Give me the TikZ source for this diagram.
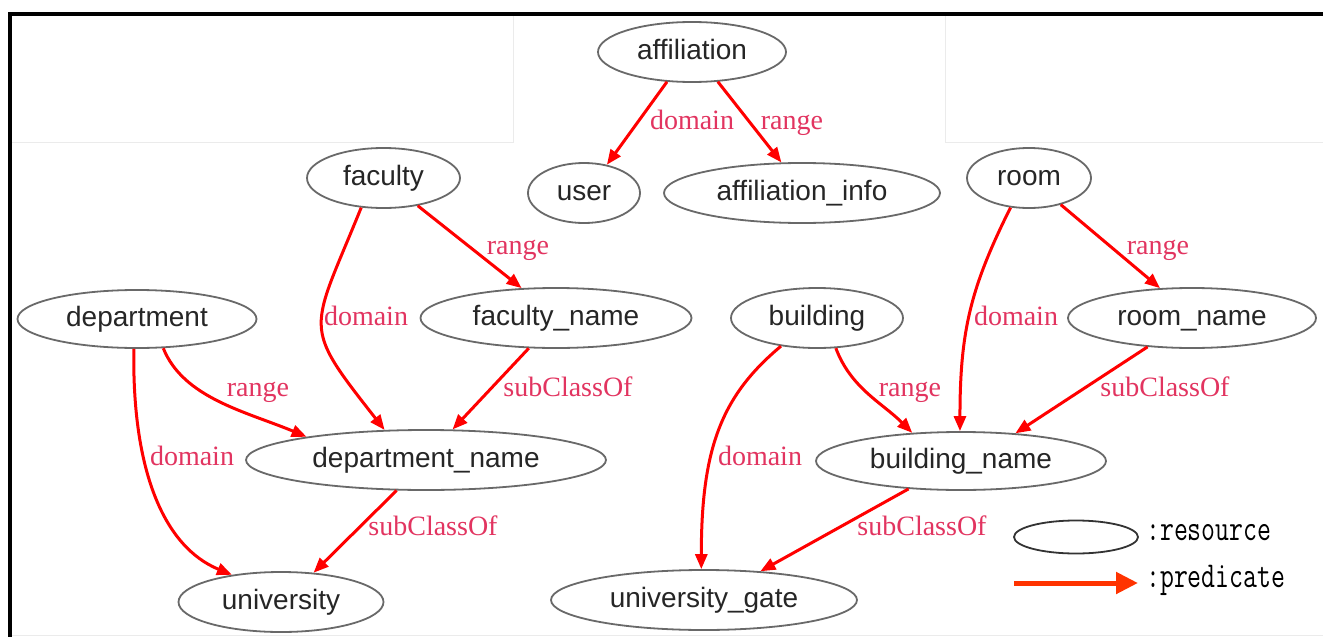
\documentclass[tikz,border=0pt]{standalone}
\usepackage{graphicx}
\usepackage{fontspec}
\setmainfont{Liberation Sans}
\newfontfamily\lblfont{Liberation Serif}
\usetikzlibrary{shapes.geometric,arrows.meta}
\definecolor{edgered}{RGB}{255,0,0}
\definecolor{lblpink}{RGB}{226,52,96}
\definecolor{rimgray}{RGB}{105,105,105}
\definecolor{legred}{RGB}{255,51,0}
\begin{document}
\begin{tikzpicture}[x=1pt,y=-1pt,
  res/.style={ellipse, draw=rimgray, line width=1.8pt, inner sep=0pt,
    text=black!85, font=\fontsize{28}{30}\selectfont,
    text height=20pt, text depth=6pt, minimum height=60pt},
  pred/.style={draw=edgered, line width=3pt, -{Triangle[length=15pt,width=12pt]}},
  lbl/.style={text=lblpink, font=\lblfont\fontsize{28}{30}\selectfont,
    anchor=base, inner sep=0pt},
  legtext/.style={anchor=base west, inner sep=0pt, text=black,
    font=\ttfamily\fontsize{27}{29}\selectfont},
  legarrow/.style={draw=legred, line width=5pt, -{Triangle[length=22pt,width=21pt]}},
  seam/.style={draw=black!8, line width=1pt}
]
\useasboundingbox (0,0) rectangle (1323,637);
\fill[white] (0,0) rectangle (1323,637);

% faint seams of the pasted panels
\draw[seam] (11.5,142) -- (513,142) -- (513,16);
\draw[seam] (945,16) -- (945,142) -- (1323,142);
\draw[seam] (11.5,635) -- (1323,635);

% outer frame (left and top sides)
\draw[line width=4pt, black] (9.5,645) -- (9.5,13.7) -- (1330,13.7);

% resources
\node[res, minimum width=188pt] (affiliation) at (692,52) {affiliation};
\node[res, minimum width=112pt] (user) at (584,193) {user};
\node[res, minimum width=276pt] (affinfo) at (802,193) {affiliation\_info};
\node[res, minimum width=153pt] (faculty) at (383.5,178) {faculty};
\node[res, minimum width=124pt] (room) at (1029,178) {room};
\node[res, minimum width=239pt, minimum height=58pt] (department) at (137,319) {department};
\node[res, minimum width=271pt] (facname) at (556,318) {faculty\_name};
\node[res, minimum width=172pt] (building) at (817,318) {building};
\node[res, minimum width=248pt] (roomname) at (1192,318) {room\_name};
\node[res, minimum width=360pt] (deptname) at (426,460) {department\_name};
\node[res, minimum width=290pt, minimum height=58pt] (bldgname) at (961,461) {building\_name};
\node[res, minimum width=205pt] (university) at (281,602) {university};
\node[res, minimum width=306pt] (gate) at (704,600) {university\_gate};

% straight predicates
\draw[pred] (affiliation.-130) -- (user.51)
  node[lbl] (l1) at (692,129) {domain};
\draw[pred] (affiliation.-49) -- (affinfo.124)
  node[lbl] (l2) at (792,129) {range};
\draw[pred] (faculty.-39) -- (facname.139.5)
  node[lbl] (l3) at (518,254) {range};
\draw[pred] (room.-40) -- (roomname.137)
  node[lbl] (l4) at (1158,254) {range};
\draw[pred] (facname.-132) -- (deptname.49)
  node[lbl] (l5) at (568,396) {subClassOf};
\draw[pred] (roomname.-147.5) -- (bldgname.27)
  node[lbl] (l6) at (1165,396) {subClassOf};
\draw[pred] (deptname.-134) -- (university.42)
  node[lbl] (l7) at (433,535) {subClassOf};
\draw[pred] (bldgname.-152) -- (gate.27.4)
  node[lbl] (l8) at (922,535) {subClassOf};

% curved predicates
\draw[pred] (department.-48.6) .. controls +(20,50) and +(-60,-25) .. (deptname.169)
  node[lbl] (l9) at (258,396) {range};
\draw[pred] (department.-96) .. controls +(-2,122) and +(-68,-28) .. (university.151)
  node[lbl] (l10) at (192,465) {domain};
\draw[pred] (faculty.-127) .. controls +(-51,126) and +(-84,-107) .. (deptname.144)
  node[lbl] (l11) at (366,325) {domain};
\draw[pred] (room.-122) .. controls +(-40,80) and +(0,-100) .. (bldgname.92)
  node[lbl] (l12) at (1016,325) {domain};
\draw[pred] (building.-58.4) .. controls +(15,40) and +(-30,-30) .. (bldgname.150.6)
  node[lbl] (l13) at (910,396) {range};
\draw[pred] (building.-142) .. controls +(-60,50) and +(0,-120) .. (gate.95)
  node[lbl] (l14) at (760,465) {domain};

% legend
\node[ellipse, draw=black!80, line width=1.8pt, minimum width=124pt,
  minimum height=33pt, inner sep=0pt] (legres) at (1076,537) {};
\node[legtext] (legrestext) at (1146,540) {\scalebox{1}[1.35]{:resource}};
\coordinate (legA) at (1014,583);
\coordinate (legB) at (1138,583);
\draw[legarrow] (legA) -- (legB);
\node[legtext] (legpredtext) at (1146,587) {\scalebox{1}[1.35]{:predicate}};
\end{tikzpicture}
\end{document}
